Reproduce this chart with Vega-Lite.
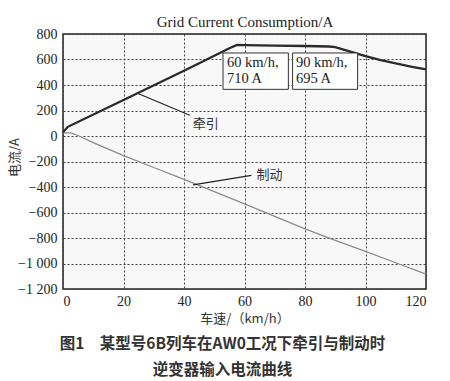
{
  "$schema": "https://vega.github.io/schema/vega-lite/v6.json",
  "autosize": "none",
  "width": 363,
  "height": 255,
  "padding": {"left": 63, "top": 34, "right": 24, "bottom": 92},
  "background": "white",
  "title": {
    "text": ["图1　某型号6B列车在AW0工况下牵引与制动时", "逆变器输入电流曲线"],
    "orient": "bottom",
    "anchor": "middle",
    "dx": -22,
    "offset": 12,
    "font": "Noto Sans CJK SC",
    "fontSize": 15.5,
    "fontWeight": "bold",
    "color": "#333333",
    "lineHeight": 26
  },
  "datasets": {
    "curves": [
      {"speed": 0, "current": 30, "mode": "牵引"},
      {"speed": 1.6, "current": 72, "mode": "牵引"},
      {"speed": 20, "current": 282, "mode": "牵引"},
      {"speed": 40, "current": 512, "mode": "牵引"},
      {"speed": 55, "current": 688, "mode": "牵引"},
      {"speed": 57.5, "current": 714, "mode": "牵引"},
      {"speed": 60, "current": 712, "mode": "牵引"},
      {"speed": 70, "current": 709, "mode": "牵引"},
      {"speed": 80, "current": 706, "mode": "牵引"},
      {"speed": 88, "current": 702, "mode": "牵引"},
      {"speed": 90, "current": 697, "mode": "牵引"},
      {"speed": 95, "current": 662, "mode": "牵引"},
      {"speed": 100, "current": 626, "mode": "牵引"},
      {"speed": 105, "current": 596, "mode": "牵引"},
      {"speed": 110, "current": 569, "mode": "牵引"},
      {"speed": 115, "current": 545, "mode": "牵引"},
      {"speed": 120, "current": 522, "mode": "牵引"},
      {"speed": 0, "current": 25, "mode": "制动"},
      {"speed": 2.5, "current": 24, "mode": "制动"},
      {"speed": 5, "current": 4, "mode": "制动"},
      {"speed": 10, "current": -52, "mode": "制动"},
      {"speed": 20, "current": -154, "mode": "制动"},
      {"speed": 30, "current": -247, "mode": "制动"},
      {"speed": 40, "current": -341, "mode": "制动"},
      {"speed": 50, "current": -437, "mode": "制动"},
      {"speed": 60, "current": -532, "mode": "制动"},
      {"speed": 70, "current": -631, "mode": "制动"},
      {"speed": 80, "current": -729, "mode": "制动"},
      {"speed": 90, "current": -818, "mode": "制动"},
      {"speed": 100, "current": -905, "mode": "制动"},
      {"speed": 110, "current": -994, "mode": "制动"},
      {"speed": 120, "current": -1083, "mode": "制动"}
    ],
    "boxes": [
      {"speed": 52.9, "speed2": 74.5, "current": 651, "current2": 366},
      {"speed": 75.9, "speed2": 97.4, "current": 651, "current2": 366}
    ],
    "boxText": [
      {"speed": 54.2, "current": 575, "label": "60 km/h,"},
      {"speed": 54.2, "current": 447, "label": "710 A"},
      {"speed": 77.0, "current": 575, "label": "90 km/h,"},
      {"speed": 77.0, "current": 447, "label": "695 A"}
    ],
    "leaders": [
      {"speed": 24.8, "current": 334, "speed2": 41.9, "current2": 163},
      {"speed": 43, "current": -383, "speed2": 62.3, "current2": -309}
    ],
    "labels": [
      {"speed": 42.9, "current": 98, "label": "牵引"},
      {"speed": 64, "current": -309, "label": "制动"}
    ]
  },
  "encoding": {
    "x": {
      "field": "speed", "type": "quantitative",
      "scale": {"domain": [0, 120], "nice": false},
      "axis": null
    },
    "y": {
      "field": "current", "type": "quantitative",
      "scale": {"domain": [-1200, 800], "nice": false},
      "axis": {
        "values": [-1200, -1000, -800, -600, -400, -200, 0, 200, 400, 600, 800],
        "labelOverlap": false,
        "labelExpr": "replace(format(datum.value, ','), ',', ' ')",
        "title": "电流/A",
        "titleFont": "Noto Sans CJK SC",
        "titleFontSize": 13,
        "titleFontWeight": "normal",
        "titleColor": "#333333",
        "titleAngle": -90,
        "titleX": -49,
        "titleY": 123,
        "titleBaseline": "middle",
        "titleAlign": "center"
      }
    }
  },
  "resolve": {"axis": {"x": "independent"}},
  "layer": [
    {
      "data": {"name": "curves"},
      "transform": [{"filter": "datum.mode === '制动'"}],
      "mark": {"type": "line", "color": "#8c8c8c", "strokeWidth": 1.3},
      "encoding": {
        "x": {
          "field": "speed", "type": "quantitative",
          "scale": {"domain": [0, 120], "nice": false},
          "axis": {
            "orient": "bottom",
            "values": [0, 20, 40, 60, 80, 100, 120],
            "labelOverlap": false,
            "labelPadding": 5,
            "title": "车速/（km/h）",
            "titleFont": "Noto Sans CJK SC",
            "titleFontSize": 13,
            "titleFontWeight": "normal",
            "titleColor": "#333333",
            "titlePadding": 4
          }
        }
      }
    },
    {
      "data": {"name": "curves"},
      "transform": [{"filter": "datum.mode === '牵引'"}],
      "mark": {"type": "line", "color": "#2a2a2a", "strokeWidth": 2.3}
    },
    {
      "data": {"name": "leaders"},
      "mark": {"type": "rule", "color": "#222222", "strokeWidth": 1.1},
      "encoding": {
        "x2": {"field": "speed2"},
        "y2": {"field": "current2"}
      }
    },
    {
      "data": {"name": "labels"},
      "mark": {"type": "text", "align": "left", "baseline": "middle", "font": "Noto Sans CJK SC", "fontSize": 13, "color": "#333333"},
      "encoding": {
        "text": {"field": "label"}
      }
    },
    {
      "data": {"name": "boxes"},
      "mark": {"type": "rect", "fill": "white", "stroke": "#333333", "strokeWidth": 1},
      "encoding": {
        "x": {
          "field": "speed", "type": "quantitative",
          "scale": {"domain": [0, 120], "nice": false},
          "axis": {
            "orient": "top",
            "labels": false,
            "ticks": false,
            "domain": false,
            "grid": false,
            "title": "Grid Current Consumption/A",
            "titleFont": "Liberation Serif",
            "titleFontSize": 15,
            "titleFontWeight": "normal",
            "titleColor": "#222222",
            "titlePadding": 5
          }
        },
        "x2": {"field": "speed2"},
        "y2": {"field": "current2"}
      }
    },
    {
      "data": {"name": "boxText"},
      "mark": {"type": "text", "align": "left", "baseline": "middle", "font": "Liberation Serif", "fontSize": 14.5, "color": "#222222"},
      "encoding": {
        "text": {"field": "label"}
      }
    }
  ],
  "config": {
    "view": {"stroke": "#222222", "strokeWidth": 1.5, "fill": "#f8f8f8"},
    "axis": {
      "grid": true,
      "gridColor": "#444444",
      "gridDash": [2, 2],
      "gridWidth": 1,
      "gridOpacity": 1,
      "ticks": false,
      "domain": false,
      "labelFont": "Liberation Serif",
      "labelFontSize": 14,
      "labelColor": "#222222",
      "labelPadding": 6
    }
  }
}
